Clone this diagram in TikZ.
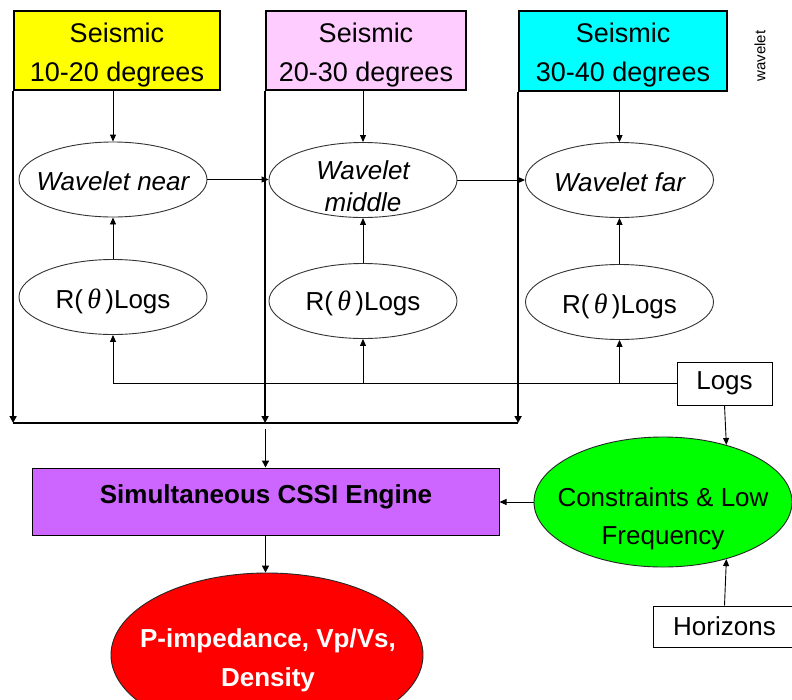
\documentclass[tikz,border=0pt]{standalone}
\usepackage{fontspec}
\setmainfont{Liberation Sans}
\newfontfamily\serifgr{Liberation Serif}
\usetikzlibrary{shapes.geometric,arrows.meta}
\definecolor{pinkc}{RGB}{255,204,255}
\definecolor{cyanc}{RGB}{0,255,255}
\definecolor{yellowc}{RGB}{255,255,0}
\definecolor{purplec}{RGB}{204,102,255}
\definecolor{greenc}{RGB}{0,255,0}
\definecolor{redc}{RGB}{255,0,0}
\newcommand{\rtheta}{R(\,{\serifgr\itshape\fontsize{28}{32}\selectfont θ}\,)Logs}
\begin{document}
\begin{tikzpicture}[x=1pt,y=-1pt,
  every node/.style={font=\fontsize{26}{32}\selectfont},
  seis/.style={draw=black, line width=1.8pt, inner sep=0pt},
  seistext/.style={align=center, inner sep=0pt, font=\fontsize{27}{39}\selectfont},
  ell/.style={ellipse, draw=black!80, line width=0.9pt, fill=white, inner sep=0pt, minimum width=188pt, minimum height=75pt},
  lbl/.style={inner sep=0pt, align=center},
  plainbox/.style={draw=black, line width=1pt, inner sep=0pt},
  arr/.style={-{Triangle[length=7pt,width=6pt]}, line width=0.9pt},
  busarr/.style={-{Triangle[length=7pt,width=7pt]}, line width=1.8pt},
  bus/.style={line width=1.8pt}]
\clip (0,0) rectangle (792,699);
\fill[white] (0,0) rectangle (792,699);

% seismic boxes
\node[seis, fill=yellowc, minimum width=206pt, minimum height=79pt] (s1) at (117,50.5) {};
\node[seistext] (s1t) at (117,55) {Seismic\\10-20 degrees};
\node[seis, fill=pinkc, minimum width=200pt, minimum height=79pt] (s2) at (366,50.5) {};
\node[seistext] (s2t) at (366,55) {Seismic\\20-30 degrees};
\node[seis, fill=cyanc, minimum width=208pt, minimum height=80pt] (s3) at (623,51) {};
\node[seistext] (s3t) at (623,55.5) {Seismic\\30-40 degrees};
\node[rotate=90, inner sep=0pt, font=\fontsize{15}{18}\selectfont] (wl) at (760,56) {wavelet};

% wavelet ellipses
\node[ell] (wn) at (113,179.5) {};
\node[lbl, font=\fontsize{26}{32}\selectfont\itshape] (wnt) at (113,181) {Wavelet near};
\node[ell] (wm) at (363,180) {};
\node[lbl, font=\fontsize{26}{32}\selectfont\itshape] (wmt) at (363,186) {Wavelet\\middle};
\node[ell] (wf) at (619.5,180) {};
\node[lbl, font=\fontsize{26}{32}\selectfont\itshape] (wft) at (619.5,182) {Wavelet far};

% R(theta) logs ellipses
\node[ell] (r1) at (113,297) {};
\node[lbl] (r1t) at (113,301) {\rtheta};
\node[ell] (r2) at (363,301) {};
\node[lbl] (r2t) at (363,303) {\rtheta};
\node[ell] (r3) at (619.5,302) {};
\node[lbl] (r3t) at (619.5,306) {\rtheta};

% Logs box
\node[plainbox, minimum width=95pt, minimum height=43pt] (logs) at (724.5,383.5) {Logs};

% bus
\coordinate (busl) at (s1.south west |- 0,423);
\coordinate (busm) at (s2.south west |- 0,423);
\coordinate (busr) at (s3.south west |- 0,423);
\draw[bus] (busl) -- (busr);
\draw[busarr] (s1.south west) -- (busl);
\draw[busarr] (s2.south west) -- (busm);
\draw[busarr] (s3.south west) -- (busr);

% CSSI engine
\node[plainbox, fill=purplec, minimum width=467pt, minimum height=67pt] (cssi) at (265.5,501.5) {};
\node[lbl, font=\fontsize{26}{32}\selectfont\bfseries] (cssit) at (266,497) {Simultaneous CSSI Engine};
\coordinate (cin) at (cssi.north |- 0,429);
\draw[busarr, line width=1.4pt] (cin) -- (cssi.north);

% constraints
\node[ellipse, draw=black!85, line width=0.9pt, fill=greenc, inner sep=0pt, minimum width=258pt, minimum height=130pt] (cons) at (663,502) {};
\node[lbl] (const) at (663,519) {Constraints \& Low\\[6pt]Frequency};

% output
\node[ellipse, draw=black!85, line width=0.9pt, fill=redc, inner sep=0pt, minimum width=312pt, minimum height=164pt] (out) at (267,655) {};
\node[lbl, text=white, font=\fontsize{26}{39}\selectfont\bfseries] (outt) at (268,660) {P-impedance, Vp/Vs,\\Density};

% horizons
\node[plainbox, minimum width=143pt, minimum height=41pt] (hor) at (724.5,626.5) {Horizons};

% connectors
\draw[arr] (wn.north |- s1.south) -- (wn.north);
\draw[arr] (wm.north |- s2.south) -- (wm.north);
\draw[arr] (wf.north |- s3.south) -- (wf.north);
\draw[arr] (r1.north) -- (wn.south);
\draw[arr] (r2.north) -- (wm.south);
\draw[arr] (r3.north) -- (wf.south);
\draw[arr] (wn.east) -- (wn.east -| wm.west);
\draw[arr] (wm.east) -- (wf.west);
\draw[line width=0.9pt] (logs.west) -- (logs.west -| r1.south);
\draw[arr] (logs.west -| r1.south) -- (r1.south);
\draw[arr] (logs.west -| r2.south) -- (r2.south);
\draw[arr] (logs.west -| r3.south) -- (r3.south);
\draw[arr] (logs.south) -- (cons.42);
\draw[arr] (hor.north) -- (cons.-42);
\draw[arr] (cons.west) -- (cons.west -| cssi.east);
\draw[busarr, line width=1.4pt] (cssi.south) -- (cssi.south |- out.north);
\end{tikzpicture}
\end{document}
